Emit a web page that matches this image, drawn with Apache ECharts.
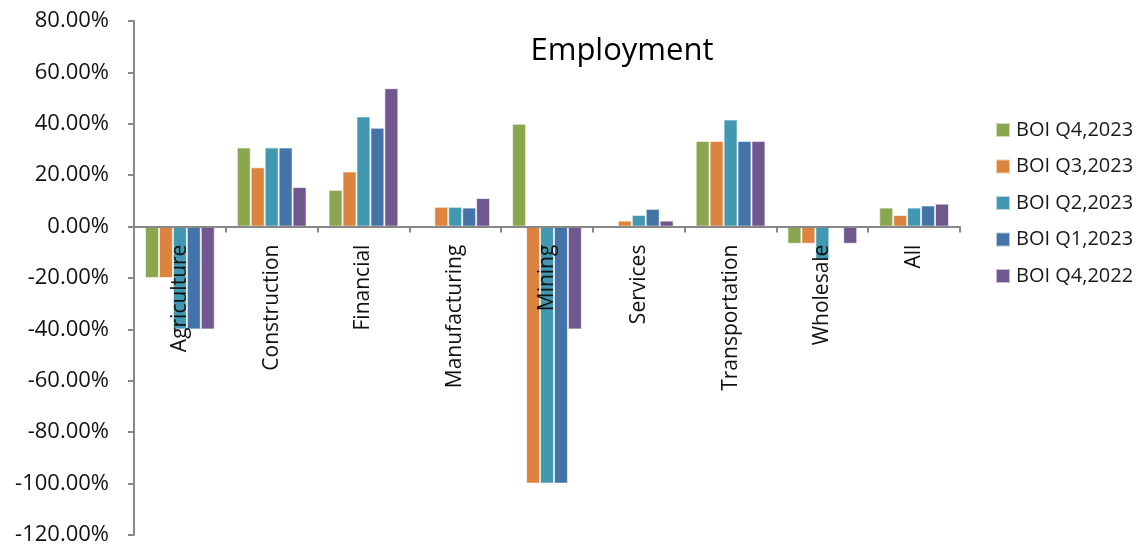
<!DOCTYPE html>
<html>
<head>
<meta charset="utf-8">
<script src="https://cdn.jsdelivr.net/npm/echarts@6/dist/echarts.min.js"></script>
<style>
html,body{margin:0;padding:0;background:#fff;}
#c{width:1143px;height:547px;}
</style>
</head>
<body>
<div id="c"></div>
<script>
const categories = ['Agriculture','Construction','Financial','Manufacturing','Mining','Services','Transportation','Wholesale','All'];
const seriesNames = ['BOI Q4,2023','BOI Q3,2023','BOI Q2,2023','BOI Q1,2023','BOI Q4,2022'];
const q4_2023 = [-20, 30.77, 14.29, 0, 40, 0, 33.33, -6.67, 7.4];
const q3_2023 = [-20, 23.08, 21.43, 7.69, -100, 2.33, 33.33, -6.67, 4.5];
const q2_2023 = [-40, 30.77, 42.86, 7.69, -100, 4.55, 41.67, -13.0, 7.4];
const q1_2023 = [-40, 30.77, 38.46, 7.4, -100, 6.9, 33.33, 0, 8.2];
const q4_2022 = [-40, 15.38, 53.85, 11.11, -40, 2.33, 33.33, -6.67, 8.9];
const yTicks = [-120, -100, -80, -60, -40, -20, 0, 20, 40, 60, 80];
const colors = ['#8AA64E','#DC843F','#4298B0','#4473A7','#70588F'];
const allData = [q4_2023, q3_2023, q2_2023, q1_2023, q4_2022];

const font = 'Open Sans';
const gridTop = 21, gridBottom = 12, H = 547;
const yMin = yTicks[0], yMax = yTicks[yTicks.length - 1];
const plotH = H - gridTop - gridBottom;
// distance from grid bottom up to the zero line
const zeroOffset = plotH * (0 - yMin) / (yMax - yMin);

const chart = echarts.init(document.getElementById('c'));
chart.setOption({
  animation: false,
  color: colors,
  title: {
    text: 'Employment',
    left: 617, top: 31, textAlign: 'center',
    textStyle: {fontFamily: font, fontSize: 31, fontWeight: 'normal', color: '#000'}
  },
  legend: {
    orient: 'vertical',
    left: 995, top: 119, padding: 0,
    itemWidth: 14, itemHeight: 14, itemGap: 14.5,
    icon: 'rect',
    data: seriesNames,
    textStyle: {fontFamily: font, fontSize: 20, color: '#1a1a1a', lineHeight: 22, padding: [0,0,0,1]}
  },
  grid: {left: 134, right: 183, top: gridTop, bottom: gridBottom, containLabel: false, outerBoundsMode: 'none'},
  xAxis: {
    type: 'category',
    data: categories,
    offset: -zeroOffset,
    axisLine: {onZero: false, lineStyle: {color: '#888', width: 2}},
    axisTick: {show: true, length: 6, lineStyle: {color: '#888', width: 2}},
    axisLabel: {rotate: 90, margin: 18, fontFamily: font, fontSize: 21, color: '#111'},
    z: 10
  },
  yAxis: {
    type: 'value',
    min: yMin, max: yMax, interval: 20,
    axisLine: {show: true, lineStyle: {color: '#888', width: 2}},
    axisTick: {show: true, length: 6, lineStyle: {color: '#888', width: 2}},
    splitLine: {show: false},
    axisLabel: {margin: 25, fontFamily: font, fontSize: 22, color: '#111',
      formatter: v => v.toFixed(2) + '%'}
  },
  series: seriesNames.map((n, i) => ({
    name: n, type: 'bar',
    data: allData[i],
    barGap: '0%', barCategoryGap: '24%',
    itemStyle: {color: colors[i], borderColor: 'rgba(255,255,255,0.6)', borderWidth: 1}
  }))
});
</script>
</body>
</html>
